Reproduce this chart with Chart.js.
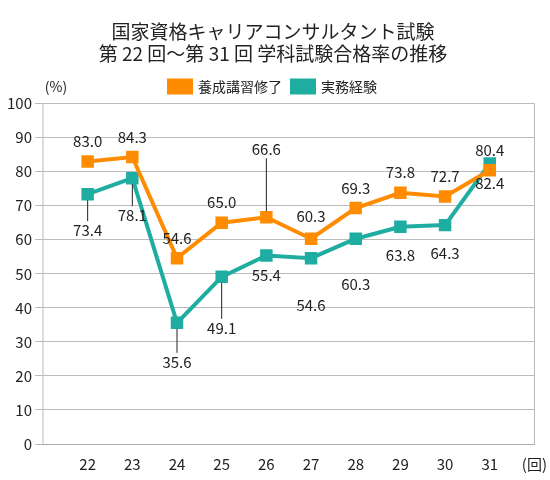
<!DOCTYPE html>
<html><head><meta charset="utf-8">
<script src="https://cdn.jsdelivr.net/npm/chart.js@4"></script>
<style>body{margin:0;background:#fff}#w{width:550px;height:480px}</style>
</head><body><div id="w"><canvas id="c"></canvas></div>
<script>
const categories = ['', '22','23','24','25','26','27','28','29','30','31',''];
const courseValues = [null,83.0,84.3,54.6,65.0,66.6,60.3,69.3,73.8,72.7,80.4,null];
const practiceValues = [null,73.4,78.1,35.6,49.1,55.4,54.6,60.3,63.8,64.3,82.4,null];
const yTicks = [0,10,20,30,40,50,60,70,80,90,100];
// label pixel offsets (style), and leader-line flags
const courseDy = [0,-20,-20,-20,-20,-68,-22,-20,-20,-20,-20,0];
const courseLead = [0,0,0,0,0,1,0,0,0,0,0,0];
const practiceDy = [0,36,37,39,51,20,47,46,28,28,20,0];
const practiceLead = [0,1,1,1,1,0,0,0,0,0,0,0];
const ORANGE='#FF8C00', TEAL='#1FADA2';
const FONT='"Noto Sans CJK JP","Noto Sans",sans-serif';
const labelPlugin={id:'lbl',afterDatasetsDraw(ch){
  const ctx=ch.ctx;ctx.save();ctx.font='15px '+FONT;ctx.fillStyle='#222';ctx.textAlign='center';ctx.textBaseline='middle';
  [[0,courseDy,courseLead],[1,practiceDy,practiceLead]].forEach(([di,dy,ld])=>{
    const ds=ch.data.datasets[di];const meta=ch.getDatasetMeta(di);
    meta.data.forEach((p,i)=>{const v=ds.data[i];if(v==null)return;
      const ty=p.y+dy[i];
      if(ld[i]){ctx.strokeStyle='#222';ctx.lineWidth=1;ctx.beginPath();
        const s=Math.sign(dy[i]);ctx.moveTo(p.x,p.y+s*6);ctx.lineTo(p.x,ty-s*9);ctx.stroke();}
      ctx.fillText(v.toFixed(1),p.x,ty);});
  });
  const ca=ch.chartArea;ctx.font='14px '+FONT;ctx.fillText('(%)',ca.left+13,ca.top-17);
  ctx.restore();}};
new Chart(document.getElementById('c'),{type:'line',
 data:{labels:categories,datasets:[
  {label:'養成講習修了',data:courseValues,borderColor:ORANGE,backgroundColor:ORANGE,borderWidth:4,pointStyle:'rect',pointRadius:6,pointBorderColor:ORANGE},
  {label:'実務経験',data:practiceValues,borderColor:TEAL,backgroundColor:TEAL,borderWidth:4,pointStyle:'rect',pointRadius:6,pointBorderColor:TEAL}]},
 options:{responsive:true,maintainAspectRatio:false,animation:false,
  layout:{padding:{left:4,right:8,top:6,bottom:4}},
  plugins:{title:{display:true,text:['国家資格キャリアコンサルタント試験','第 22 回～第 31 回 学科試験合格率の推移'],font:{family:FONT,size:19,weight:'normal'},color:'#222',padding:{top:14,bottom:4}},
   legend:{labels:{font:{family:FONT,size:14},color:'#222',boxWidth:22,boxHeight:12,usePointStyle:false},padding:0},
   tooltip:{enabled:false}},
  scales:{x:{offset:false,grid:{display:false},border:{color:'#aaa'},ticks:{font:{family:FONT,size:15},color:'#222',autoSkip:false,maxRotation:0,callback:(v,i)=>i===categories.length-1?'(回)':categories[i]}},
   y:{min:0,max:100,afterBuildTicks:a=>{a.ticks=yTicks.map(v=>({value:v}));},grid:{color:'#bbb'},border:{display:false},ticks:{font:{family:FONT,size:15},color:'#222'}}}},
 plugins:[labelPlugin,{id:'rb',afterDraw(ch){const c=ch.ctx,a=ch.chartArea;c.save();c.strokeStyle='#bbb';c.lineWidth=1;c.beginPath();c.moveTo(a.right,a.top);c.lineTo(a.right,a.bottom);c.moveTo(a.left,a.top);c.lineTo(a.left,a.bottom);c.stroke();c.restore();}}]
});
</script></body></html>
